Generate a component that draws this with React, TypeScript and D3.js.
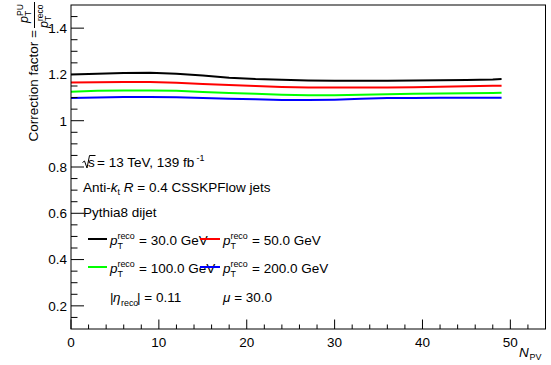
import React from "react";
import * as d3 from "d3";

const nPV = [0, 3, 6, 9, 12, 15, 18, 21, 24, 27, 30, 33, 36, 39, 42, 45, 48, 49];
const cf30 = [1.2, 1.203, 1.206, 1.207, 1.203, 1.195, 1.186, 1.18, 1.177, 1.174, 1.173, 1.173, 1.173, 1.174, 1.175, 1.176, 1.178, 1.18];
const cf50 = [1.165, 1.166, 1.167, 1.167, 1.164, 1.159, 1.154, 1.15, 1.146, 1.144, 1.143, 1.144, 1.144, 1.145, 1.147, 1.149, 1.151, 1.151];
const cf100 = [1.125, 1.129, 1.131, 1.131, 1.129, 1.124, 1.12, 1.116, 1.112, 1.11, 1.11, 1.112, 1.114, 1.116, 1.118, 1.119, 1.12, 1.121];
const cf200 = [1.098, 1.1, 1.102, 1.102, 1.101, 1.098, 1.095, 1.093, 1.09, 1.089, 1.091, 1.095, 1.098, 1.098, 1.099, 1.099, 1.099, 1.099];

const seriesNames = ["30.0", "50.0", "100.0", "200.0"];
const seriesColors = ["#000000", "#ff0000", "#00ff00", "#0000ff"];
const seriesValues = [cf30, cf50, cf100, cf200];

const xMajor = [0, 10, 20, 30, 40, 50];
const yMajor = [0.2, 0.4, 0.6, 0.8, 1.0, 1.2, 1.4];

const FONT = "'Liberation Sans', Arial, Helvetica, sans-serif";
const FS = 13.5;

function PT({ x, y, sup, fs = FS }: { x: number; y: number; sup: string; fs?: number }) {
  const s = fs * 0.66;
  return (
    <g fontFamily={FONT}>
      <text x={x} y={y} fontSize={fs} fontStyle="italic">p</text>
      <text x={x + fs * 0.55} y={y - fs * 0.42} fontSize={s}>{sup}</text>
      <text x={x + fs * 0.55} y={y + fs * 0.32} fontSize={s}>T</text>
    </g>
  );
}

export default function App() {
  const W = 551, H = 365;
  const x = d3.scaleLinear().domain([0, 54]).range([71, 545.5]);
  const y = d3.scaleLinear().domain([0.1, 1.5]).range([329, 5]);
  const xMinor = d3.range(2, 55, 2).filter((v) => v % 10 !== 0);
  const yMinor = d3.range(0.15, 1.5, 0.05).map((v) => +v.toFixed(2)).filter((v) => Math.abs(v * 5 - Math.round(v * 5)) > 1e-6);
  const line = d3.line<number>().x((_, i) => x(nPV[i])).y((d) => y(d));
  const fmt = d3.format("~g");
  const x0 = x(0), yb = y(0.1), yt = y(1.5), xr = x(54);

  const legendRows = [
    { yy: 245, items: [0, 1] },
    { yy: 273, items: [2, 3] },
  ];
  const colX = [{ lx1: 88, lx2: 107, tx: 110 }, { lx1: 200, lx2: 220, tx: 223 }];

  return (
    <svg width={W} height={H} style={{ position: "absolute", left: 0, top: 0, background: "#fff" }} fontFamily={FONT}>
      <rect x={0} y={0} width={W} height={H} fill="#fff" />
      {seriesValues.map((vals, i) => (
        <path key={i} d={line(vals) || ""} fill="none" stroke={seriesColors[i]} strokeWidth={2} />
      ))}
      <rect x={x0} y={yt} width={xr - x0} height={yb - yt} fill="none" stroke="#000" strokeWidth={1} />
      {xMajor.map((v) => (
        <g key={"xm" + v}>
          <line x1={x(v)} x2={x(v)} y1={yb} y2={yb - 9.5} stroke="#000" />
          <text x={x(v)} y={347} fontSize={FS} textAnchor="middle">{v}</text>
        </g>
      ))}
      {xMinor.map((v) => (
        <line key={"xn" + v} x1={x(v)} x2={x(v)} y1={yb} y2={yb - 4.5} stroke="#000" />
      ))}
      {yMajor.map((v) => (
        <g key={"ym" + v}>
          <line x1={x0} x2={x0 + 13} y1={y(v)} y2={y(v)} stroke="#000" />
          <text x={67} y={y(v) + 4.8} fontSize={FS} textAnchor="end">{fmt(v)}</text>
        </g>
      ))}
      {yMinor.map((v) => (
        <line key={"yn" + v} x1={x0} x2={x0 + 6.5} y1={y(v)} y2={y(v)} stroke="#000" />
      ))}
      <text x={519} y={357} fontSize={FS} fontStyle="italic">N</text>
      <text x={529.5} y={360} fontSize={FS * 0.66}>PV</text>
      <g transform="rotate(-90)" fontFamily={FONT}>
        <text x={-30} y={38} fontSize={FS} textAnchor="end">Correction factor =</text>
        <line x1={-28} x2={-2} y1={34.5} y2={34.5} stroke="#000" strokeWidth={1} />
        <text x={-23} y={28} fontSize={12.5} fontStyle="italic">p</text>
        <text x={-16} y={23} fontSize={8.5}>PU</text>
        <text x={-16} y={31} fontSize={8.5}>T</text>
        <text x={-28} y={47.5} fontSize={12.5} fontStyle="italic">p</text>
        <text x={-21} y={42.5} fontSize={8.5}>reco</text>
        <text x={-21} y={51} fontSize={8.5}>T</text>
      </g>
      <path d="M82.5,162.5 L84.5,161 L87,168 L89.5,155.5 L95.5,155.5" fill="none" stroke="#000" strokeWidth={1} />
      <text x={88} y={167} fontSize={FS}>s</text>
      <text x={97} y={167} fontSize={FS}>= 13 TeV, 139 fb</text>
      <text x={196.5} y={161} fontSize={FS * 0.66}>-1</text>
      <text x={83} y={192} fontSize={FS}>
        Anti-<tspan fontStyle="italic">k</tspan>
        <tspan fontSize={FS * 0.66} dy={3}>t</tspan>
        <tspan dy={-3}> </tspan>
        <tspan fontStyle="italic">R</tspan> = 0.4 CSSKPFlow jets
      </text>
      <text x={83} y={217} fontSize={FS}>Pythia8 dijet</text>
      {legendRows.map((row, ri) =>
        row.items.map((si, ci) => (
          <g key={"lg" + ri + ci}>
            <line x1={colX[ci].lx1} x2={colX[ci].lx2} y1={row.yy - 6} y2={row.yy - 6} stroke={seriesColors[si]} strokeWidth={2} />
            <PT x={colX[ci].tx} y={row.yy} sup="reco" />
            <text x={colX[ci].tx + 29} y={row.yy} fontSize={FS}>= {seriesNames[si]} GeV</text>
          </g>
        ))
      )}
      <text x={110} y={302} fontSize={FS}>|</text>
      <text x={113} y={302} fontSize={FS} fontStyle="italic">η</text>
      <text x={121} y={305.5} fontSize={FS * 0.66}>reco</text>
      <text x={137} y={302} fontSize={FS}>| = 0.11</text>
      <text x={223} y={302} fontSize={FS}><tspan fontStyle="italic">μ</tspan> = 30.0</text>
    </svg>
  );
}
